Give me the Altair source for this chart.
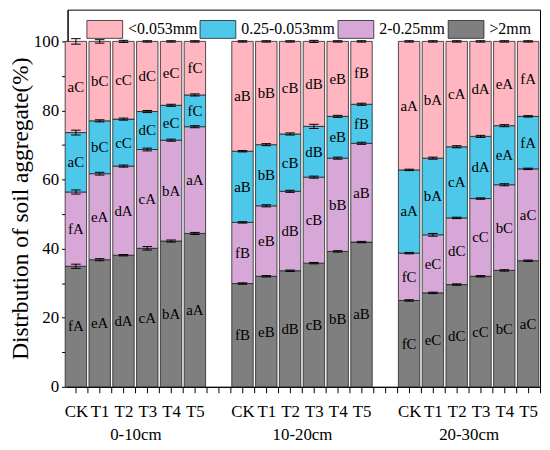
import altair as alt
import pandas as pd

groups = ["0-10cm", "10-20cm", "20-30cm"]
treatments = ["CK", "T1", "T2", "T3", "T4", "T5"]
# stacking order bottom -> top
fractions = [">2mm", "2-0.25mm", "0.25-0.053mm", "<0.053mm"]
legend_order = ["<0.053mm", "0.25-0.053mm", "2-0.25mm", ">2mm"]
legend_colors = ["#FFB6C1", "#4DC8EA", "#D7A8D7", "#7F7F7F"]

# percentages (18 values each: 3 depths x 6 treatments)
gt2 = [34.9, 36.8, 38.1, 40.1, 42.2, 44.4, 29.9, 32.0, 33.6, 35.8, 39.2, 41.9, 25.0, 27.2, 29.6, 32.0, 33.7, 36.5]
mid = [21.5, 24.9, 25.8, 28.6, 29.2, 30.9, 17.7, 20.4, 23.0, 24.9, 27.0, 28.6, 13.7, 16.8, 19.3, 22.5, 24.8, 26.6]
small = [17.2, 15.3, 13.6, 11.0, 10.1, 9.2, 20.6, 17.7, 16.6, 14.7, 12.1, 11.3, 24.1, 22.2, 20.6, 18.0, 17.1, 15.2]
clay = [26.4, 23.0, 22.5, 20.3, 18.5, 15.5, 31.8, 29.9, 26.8, 24.6, 21.7, 18.2, 37.2, 33.8, 30.5, 27.5, 24.4, 21.7]

# standard errors at segment tops
err_gt2 = [0.6, 0.3, 0.2, 0.5, 0.3, 0.3, 0.2, 0.2, 0.2, 0.2, 0.2, 0.2, 0.2, 0.2, 0.2, 0.2, 0.2, 0.2]
err_mid = [0.6, 0.4, 0.3, 0.4, 0.3, 0.3, 0.2, 0.3, 0.3, 0.3, 0.3, 0.3, 0.2, 0.4, 0.2, 0.2, 0.3, 0.2]
err_small = [0.7, 0.3, 0.3, 0.3, 0.3, 0.3, 0.2, 0.3, 0.3, 0.6, 0.3, 0.3, 0.2, 0.3, 0.3, 0.3, 0.3, 0.2]
err_clay = [0.8, 0.5, 0.3, 0.2, 0.2, 0.2, 0.2, 0.2, 0.2, 0.3, 0.2, 0.2, 0.2, 0.2, 0.2, 0.2, 0.2, 0.2]

let_gt2 = ["fA", "eA", "dA", "cA", "bA", "aA", "fB", "eB", "dB", "cB", "bB", "aB", "fC", "eC", "dC", "cC", "bC", "aC"]
let_mid = ["fA", "eA", "dA", "cA", "bA", "aA", "fB", "eB", "dB", "cB", "bB", "aB", "fC", "eC", "dC", "cC", "bC", "aC"]
let_small = ["aC", "bC", "cC", "dC", "eC", "fC", "aB", "bB", "cB", "dB", "eB", "fB", "aA", "bA", "cA", "dA", "eA", "fA"]
let_clay = ["aC", "bC", "cC", "dC", "eC", "fC", "aB", "bB", "cB", "dB", "eB", "fB", "aA", "bA", "cA", "dA", "eA", "fA"]

values = [gt2, mid, small, clay]
errors = [err_gt2, err_mid, err_small, err_clay]
letters = [let_gt2, let_mid, let_small, let_clay]

rows = []
for gi, g in enumerate(groups):
    for ti, t in enumerate(treatments):
        k = gi * 6 + ti
        pos = gi * 7 + ti
        cum = 0.0
        for fi, f in enumerate(fractions):
            v = values[fi][k]
            lo, hi = cum, cum + v
            cum = hi
            e = errors[fi][k]
            rows.append({
                "group": g, "treatment": t, "fraction": f, "pos": pos,
                "x1": pos - 0.45, "x2": pos + 0.45, "c1": pos - 0.2, "c2": pos + 0.2,
                "lo": lo, "hi": hi, "mid": (lo + hi) / 2,
                "elo": hi - e, "ehi": hi + e, "letter": letters[fi][k],
            })
df = pd.DataFrame(rows)

FONT = "Liberation Serif"

# x-axis labels: treatment names at bar centres, depth names (second line) between T2 and T3
parts = []
for gi, g in enumerate(groups):
    for ti, t in enumerate(treatments):
        parts.append(f"datum.value == {gi * 7 + ti} ? '{t}'")
    parts.append(f"datum.value == {gi * 7 + 2.5} ? ['', '{g}']")
label_expr = " : ".join(parts) + " : ''"
tick_vals = [i * 0.5 for i in range(0, 40)]

xscale = alt.Scale(domain=[-0.35, 19.5], nice=False, zero=False)
yscale = alt.Scale(domain=[0, 109.2], nice=False, zero=True)

x_axis = alt.Axis(
    title=None, values=tick_vals, labelExpr=label_expr, labelOverlap=False,
    labelFlush=False, labelFontSize=17, labelLineHeight=23, labelPadding=11,
    tickSize=6, grid=False, labelFont=FONT)
y_axis = alt.Axis(
    title="Distrbution of soil aggregate(%)", values=list(range(0, 101, 10)),
    labelExpr="datum.value % 20 == 0 ? datum.label : ''", tickSize=6,
    labelPadding=3, labelFontSize=17, titleFontSize=23.5, titlePadding=1,
    titleFontWeight="normal", titleY=200, grid=False, labelFont=FONT, titleFont=FONT)

base = alt.Chart(df)

bars = base.mark_rect(stroke="#222222", strokeWidth=0.8).encode(
    x=alt.X("x1:Q", scale=xscale, axis=x_axis),
    x2="x2:Q",
    y=alt.Y("lo:Q", scale=yscale, axis=y_axis),
    y2="hi:Q",
    color=alt.Color("fraction:N", scale=alt.Scale(domain=legend_order, range=legend_colors),
                    legend=alt.Legend(
                        orient="none", legendX=19, legendY=1, direction="horizontal",
                        title=None, symbolType="M-1,-0.5H1V0.5H-1Z", symbolSize=1296,
                        symbolStrokeColor="#222222", symbolStrokeWidth=0.8,
                        labelFont=FONT, labelFontSize=16, labelOffset=5,
                        columnPadding=0, padding=0, labelColor="black")),
)

texts = base.mark_text(font=FONT, fontSize=15, color="black", baseline="middle", align="center").encode(
    x=alt.X("pos:Q", scale=xscale, axis=x_axis),
    y=alt.Y("mid:Q", scale=yscale, axis=y_axis),
    text="letter:N",
)

err = base.mark_rule(color="black", strokeWidth=1).encode(
    x=alt.X("pos:Q", scale=xscale, axis=x_axis),
    y=alt.Y("elo:Q", scale=yscale, axis=y_axis),
    y2="ehi:Q",
)
cap_top = base.mark_rule(color="black", strokeWidth=1).encode(
    x=alt.X("c1:Q", scale=xscale, axis=x_axis), x2="c2:Q",
    y=alt.Y("ehi:Q", scale=yscale, axis=y_axis),
)
cap_bot = base.mark_rule(color="black", strokeWidth=1).encode(
    x=alt.X("c1:Q", scale=xscale, axis=x_axis), x2="c2:Q",
    y=alt.Y("elo:Q", scale=yscale, axis=y_axis),
)

chart = alt.layer(bars, err, cap_top, cap_bot, texts).properties(
    width=476, height=380,
    autosize=alt.AutoSizeParams(type="none"),
    padding={"left": 60, "top": 0, "right": 2, "bottom": 58},
).configure_view(
    stroke="black", strokeWidth=1
).configure_axis(
    domainColor="black", tickColor="black", labelColor="black", titleColor="black",
    domainWidth=1, tickWidth=1
)

chart.save("out.html", embed_options={"renderer": "svg", "actions": False})
